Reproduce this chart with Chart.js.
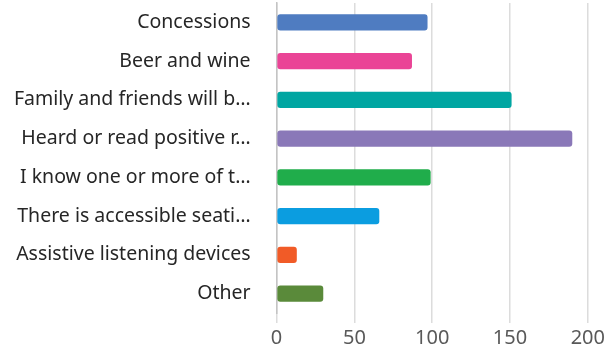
<!DOCTYPE html>
<html>
<head>
<meta charset="utf-8">
<script src="https://cdn.jsdelivr.net/npm/chart.js@4.4.0/dist/chart.umd.min.js"></script>
<style>
  html, body { margin: 0; padding: 0; background: #fff; }
  #wrap { width: 608px; height: 353px; }
</style>
</head>
<body>
<div id="wrap"><canvas id="chart" width="608" height="353"></canvas></div>
<script>
// DATA
const categories = [
  'Concessions',
  'Beer and wine',
  'Family and friends will b\u2026',
  'Heard or read positive r\u2026',
  'I know one or more of t\u2026',
  'There is accessible seati\u2026',
  'Assistive listening devices',
  'Other'
];
const responses = [97, 87, 151, 190, 99, 66, 13, 30];
const barColors = ['#4f7cc1', '#ea4496', '#00a6a2', '#8a78b8', '#20ad4b', '#0b9de0', '#f15b27', '#5a8a3a'];
const xTicks = [0, 50, 100, 150, 200];

const ctx = document.getElementById('chart');
new Chart(ctx, {
  type: 'bar',
  data: {
    labels: categories,
    datasets: [{
      data: responses,
      backgroundColor: barColors,
      borderRadius: 3,
      borderSkipped: false,
      barPercentage: 0.42,
      categoryPercentage: 1
    }]
  },
  options: {
    indexAxis: 'y',
    responsive: false,
    animation: false,
    layout: { padding: { top: 3, right: 0, bottom: 0, left: 12 } },
    plugins: { legend: { display: false }, tooltip: { enabled: false } },
    scales: {
      x: {
        min: xTicks[0],
        max: xTicks[xTicks.length - 1],
        afterBuildTicks: axis => { axis.ticks = xTicks.map(v => ({ value: v })); },
        grid: { color: '#dcdcdc', lineWidth: 1.5, tickLength: 10 },
        border: { display: false },
        ticks: { color: '#595959', padding: 3, font: { family: 'Noto Sans', size: 20 } }
      },
      y: {
        afterFit: s => { s.paddingTop = 0; s.paddingBottom = 0; s.width -= 24; },
        grid: { display: false, drawTicks: false },
        border: { color: '#c4c4c4', width: 1.5 },
        ticks: { color: '#262626', padding: 26, font: { family: 'Noto Sans', size: 19.5 } }
      }
    }
  }
});
</script>
</body>
</html>
